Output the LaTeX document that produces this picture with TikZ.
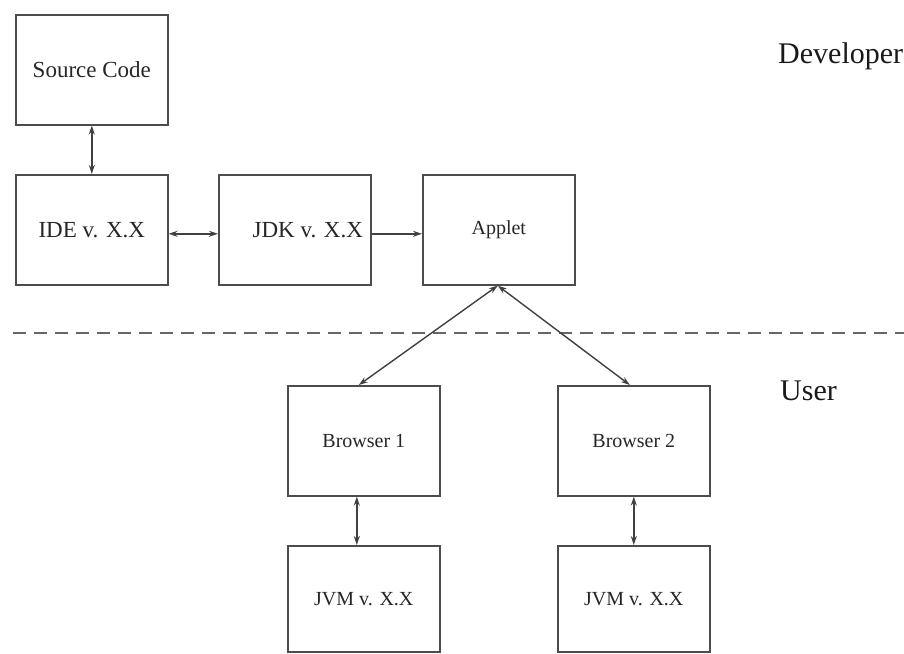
\documentclass[tikz,border=0pt]{standalone}
\usepackage{fontspec}
\setmainfont{Liberation Serif}
\usetikzlibrary{arrows.meta,calc}

\tikzset{
  box/.style={draw=black!70, line width=1.6pt, minimum width=152pt,
    minimum height=110pt, inner sep=0pt, anchor=north west,
    font=\fontsize{20}{24}\selectfont, text=black!85},
  bigtext/.style={font=\fontsize{23}{27}\selectfont},
  conn/.style={draw=black!75, line width=1.4pt,
    {Stealth[length=9pt,width=6pt]}-{Stealth[length=9pt,width=6pt]}},
  oneway/.style={draw=black!75, line width=1.4pt,
    -{Stealth[length=9pt,width=6pt]}},
  role/.style={font=\fontsize{30}{34}\selectfont, text=black!90,
    anchor=base west, inner sep=0pt},
  divider/.style={draw=black!60, line width=1.6pt,
    dash pattern=on 13pt off 8pt}
}

\begin{document}
\begin{tikzpicture}[x=1pt,y=-1pt]
  \useasboundingbox (0,0) rectangle (904,653);

  % developer side
  \node[box,bigtext] (src) at (15,14) {Source Code};
  \node[box,bigtext] (ide) at (15,174) {IDE v. X.X};
  \node[box,bigtext] (jdk) at (218,174) {\hspace*{26pt}JDK v. X.X};
  \node[box] (applet) at (422,174) {Applet};

  % user side
  \node[box] (br1) at (287,385) {Browser 1};
  \node[box] (br2) at (557,385) {Browser 2};
  \node[box,minimum height=106pt] (jvm1) at (287,545) {JVM v. X.X};
  \node[box,minimum height=106pt] (jvm2) at (557,545) {JVM v. X.X};

  % role labels
  \node[role] (dev) at (778,63) {Developer};
  \node[role] (usr) at (780,400) {User};

  % boundary between developer and user
  \coordinate (dl) at (13,333);
  \coordinate (dr) at (904,333);
  \draw[divider] (dl) -- (dr);

  % connectors
  \draw[conn] (src.south) -- (ide.north);
  \draw[conn] ($(ide.east)+(0,4)$) -- ($(jdk.west)+(0,4)$);
  \draw[oneway] ($(jdk.east)+(0,4)$) -- ($(applet.west)+(0,4)$);
  \draw[conn] ($(applet.south)+(-1,0)$) -- ($(br1.north)+(-5,0)$);
  \draw[conn] ($(applet.south)+(-1,0)$) -- ($(br2.north)+(-4,0)$);
  \draw[conn] ($(br1.south)+(-7,0)$) -- ($(jvm1.north)+(-7,0)$);
  \draw[conn] (br2.south) -- (jvm2.north);
\end{tikzpicture}
\end{document}
